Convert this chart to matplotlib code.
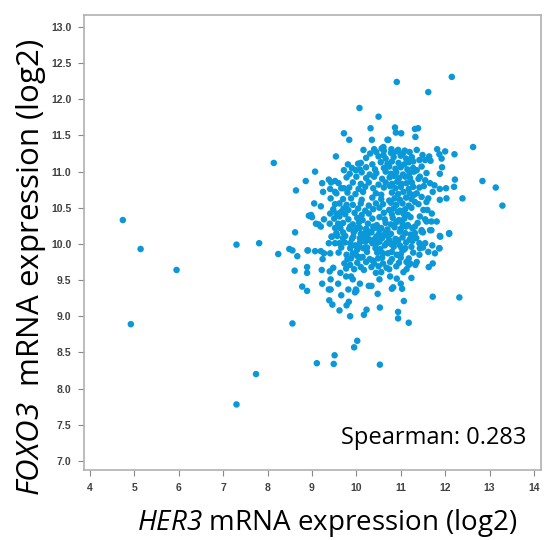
import matplotlib
matplotlib.use("Agg")
import matplotlib.pyplot as plt

# (HER3, FOXO3) log2 expression
outliers = [
    (4.74, 10.33), (5.14, 9.93), (5.95, 9.64), (4.92, 8.89),
    (7.30, 9.99), (7.81, 10.01), (8.24, 9.86), (7.74, 8.20), (7.30, 7.78),
    (8.14, 11.12), (8.56, 8.90),
]

left_edge = [
    (8.49, 9.93), (8.56, 9.91), (8.67, 9.83), (8.62, 10.16), (8.93, 10.39),
    (8.90, 9.91), (8.61, 9.63), (8.89, 9.68), (8.89, 9.60), (8.78, 9.41),
    (8.89, 9.35), (8.86, 10.87), (8.64, 10.74), (9.07, 11.00), (9.05, 10.56),
    (9.20, 10.52), (8.98, 10.40), (9.00, 10.37), (9.09, 10.28), (9.20, 10.24),
    (9.15, 10.27), (9.41, 10.42), (9.27, 10.34), (9.23, 10.84), (9.38, 10.89),
    (9.43, 10.85), (9.52, 10.87), (9.25, 10.72), (9.41, 10.76), (9.52, 10.72),
    (9.66, 10.77), (9.72, 10.77), (9.42, 10.63), (9.44, 10.10), (9.52, 10.22),
    (9.75, 10.11), (9.70, 10.16), (9.59, 10.28), (9.62, 10.56), (9.71, 10.49),
    (9.65, 10.44), (9.78, 10.54), (9.62, 10.38),
]

lower_tail = [
    (10.02, 8.66), (9.95, 8.57), (9.51, 8.46), (9.11, 8.35), (9.49, 8.34),
    (10.53, 8.33), (11.72, 9.27), (12.32, 9.26), (11.18, 8.91), (10.94, 9.06),
    (10.94, 8.97), (11.07, 9.21), (10.53, 9.12), (10.23, 9.09), (10.17, 9.02),
    (9.86, 9.00), (9.62, 9.08), (9.46, 9.16), (9.39, 9.22), (9.78, 9.15),
    (9.83, 9.20), (10.48, 9.31), (9.97, 9.33), (9.99, 9.37), (10.00, 9.35),
    (9.66, 9.29), (9.38, 9.37), (9.42, 9.37), (9.82, 9.37), (10.28, 9.42),
    (10.34, 9.42), (10.80, 9.38), (10.83, 9.40), (11.03, 9.38), (11.00, 9.45),
    (9.23, 9.45), (9.59, 9.45), (10.08, 9.45), (10.52, 9.51), (10.91, 9.52),
    (11.24, 9.53), (9.22, 9.64), (9.42, 9.51), (9.40, 9.62), (9.48, 9.67),
    (9.64, 9.60), (9.77, 9.55), (9.88, 9.55), (9.92, 9.51), (9.77, 9.66),
    (9.86, 9.71), (9.95, 9.65), (10.17, 9.64), (10.34, 9.68), (10.44, 9.60),
    (10.56, 9.61), (10.74, 9.65), (10.76, 9.55), (11.06, 9.61), (11.13, 9.65),
    (11.18, 9.71), (11.33, 9.71), (11.63, 9.68), (11.72, 9.73),
]

mid_band = [
    (8.91, 9.91), (9.07, 9.90), (9.20, 9.90), (9.27, 9.87), (9.41, 9.87),
    (9.24, 9.79), (9.73, 9.73), (9.78, 9.85), (9.80, 9.79), (9.38, 10.01),
    (9.52, 10.01), (9.62, 10.01), (9.45, 10.10), (9.57, 10.11), (9.86, 10.01),
    (9.97, 9.98), (10.08, 10.02), (10.02, 9.92), (9.99, 9.85), (10.16, 9.94),
    (10.14, 9.82), (10.04, 9.82), (10.23, 10.10), (10.27, 10.15), (10.31, 10.05),
    (10.46, 10.01), (10.43, 9.94), (10.47, 9.88), (10.49, 9.80), (10.40, 9.73),
    (10.37, 9.77), (10.64, 9.98), (10.68, 10.01), (10.74, 10.05), (10.71, 9.87),
    (10.85, 10.01), (10.94, 10.05), (10.98, 9.98), (11.02, 9.94), (10.91, 9.85),
    (11.07, 9.92), (11.18, 9.80), (11.13, 9.75), (11.21, 9.73), (11.36, 9.75),
    (11.42, 9.85), (11.43, 9.94), (11.42, 10.01), (11.62, 9.89), (11.71, 9.98),
    (11.77, 9.87), (11.87, 9.94), (11.89, 10.10), (12.09, 10.14), (11.69, 10.19),
    (11.28, 10.10), (11.32, 10.15), (11.47, 10.17), (11.88, 10.11), (11.87, 9.94),
    (9.86, 10.24), (9.97, 10.19), (10.08, 10.22), (10.19, 10.15), (10.31, 10.17),
    (10.40, 10.22), (10.52, 10.19), (10.61, 10.12), (10.70, 10.15), (9.93, 10.10),
    (10.08, 10.08), (10.26, 10.08), (10.45, 10.10),
]

upper = [
    (10.91, 12.24), (12.15, 12.31),
    (10.07, 11.88), (10.50, 11.76), (10.32, 11.60), (9.72, 11.53), (9.84, 11.44),
    (10.35, 11.44), (10.16, 11.30), (10.40, 11.31), (10.31, 11.25), (10.57, 11.32),
    (10.70, 11.44), (10.61, 11.23), (9.54, 11.21), (9.81, 11.10), (9.72, 11.02),
    (10.04, 11.11), (9.99, 11.02), (10.08, 11.03), (11.62, 12.10), (10.87, 11.61),
    (10.89, 11.54), (11.01, 11.53), (11.32, 11.59), (11.39, 11.60), (11.33, 11.48),
    (10.72, 11.44), (10.61, 11.34), (10.79, 11.31), (10.83, 11.26), (10.94, 11.30),
    (11.09, 11.29), (11.36, 11.30), (11.49, 11.23), (11.64, 11.21), (11.67, 11.15),
    (11.55, 11.16), (11.42, 11.16), (11.28, 11.14), (11.82, 11.31), (11.87, 11.24),
    (12.00, 11.28), (11.92, 11.18), (12.21, 11.24), (12.63, 11.34), (11.93, 11.06),
    (11.88, 10.97), (12.22, 10.89), (12.20, 10.79), (12.84, 10.87), (13.14, 10.78),
    (13.29, 10.53), (12.39, 10.63), (11.76, 10.81), (11.72, 10.72), (11.88, 10.76),
    (12.02, 10.77), (12.03, 10.63), (11.88, 10.61), (11.47, 11.07), (11.36, 11.02),
    (11.58, 10.98), (11.43, 10.93), (11.55, 10.88), (11.66, 10.84), (11.21, 10.91),
    (11.13, 10.84), (11.28, 10.79), (11.36, 10.70), (11.47, 10.65), (11.58, 10.58),
    (11.32, 10.58), (11.51, 10.47), (11.43, 10.38), (11.58, 10.31), (11.69, 10.31),
    (11.81, 10.31), (11.32, 10.24), (11.47, 10.19), (11.66, 10.19), (12.09, 10.15),
]

core = [
    (10.45, 11.27), (10.62, 11.29), (10.78, 11.26), (10.92, 11.28), (11.05, 11.25), (11.20, 11.27),
    (10.22, 11.19), (10.50, 11.21), (10.66, 11.18), (10.84, 11.20), (11.00, 11.22), (11.12, 11.18), (11.25, 11.20),
    (10.10, 11.12), (10.36, 11.10), (10.55, 11.13), (10.70, 11.11), (10.80, 11.14), (10.95, 11.12), (11.08, 11.10), (11.18, 11.13),
    (9.90, 11.05), (10.22, 11.06), (10.42, 11.03), (10.62, 11.05), (10.74, 11.07), (10.88, 11.04), (11.00, 11.06), (11.15, 11.03), (11.28, 11.05),
    (9.85, 10.97), (10.12, 10.99), (10.30, 10.96), (10.45, 10.98), (10.66, 11.00), (10.78, 10.97), (10.90, 10.99), (11.05, 10.96), (11.20, 10.98), (11.30, 11.00),
    (9.78, 10.92), (10.00, 10.93), (10.22, 10.91), (10.40, 10.93), (10.58, 10.90), (10.75, 10.92), (10.85, 10.94), (10.96, 10.91), (11.10, 10.93), (11.40, 10.90),
    (9.60, 10.84), (9.92, 10.85), (10.10, 10.83), (10.28, 10.85), (10.50, 10.82), (10.66, 10.85), (10.80, 10.83), (10.92, 10.86), (11.02, 10.83), (11.25, 10.85),
    (9.84, 10.78), (10.05, 10.76), (10.20, 10.79), (10.38, 10.77), (10.62, 10.78), (10.76, 10.80), (10.88, 10.77), (11.00, 10.79), (11.18, 10.76), (11.42, 10.78), (11.52, 10.80),
    (9.55, 10.70), (9.80, 10.71), (9.98, 10.69), (10.15, 10.72), (10.44, 10.70), (10.56, 10.68), (10.80, 10.71), (10.94, 10.69), (11.06, 10.72), (11.20, 10.70), (11.30, 10.68),
    (9.70, 10.62), (9.88, 10.63), (10.12, 10.61), (10.36, 10.64), (10.56, 10.62), (10.74, 10.60), (10.86, 10.63), (10.98, 10.61), (11.12, 10.64), (11.24, 10.62), (11.62, 10.63),
    (9.52, 10.55), (9.92, 10.54), (10.10, 10.56), (10.28, 10.53), (10.44, 10.56), (10.60, 10.55), (10.78, 10.57), (10.90, 10.54), (11.04, 10.56), (11.18, 10.53), (11.40, 10.55),
    (9.48, 10.48), (9.82, 10.47), (10.04, 10.49), (10.20, 10.46), (10.38, 10.48), (10.52, 10.50), (10.74, 10.47), (10.84, 10.49), (10.98, 10.46), (11.10, 10.48), (11.24, 10.50), (11.60, 10.47),
    (9.55, 10.42), (9.75, 10.41), (9.96, 10.43), (10.12, 10.40), (10.28, 10.42), (10.62, 10.43), (10.80, 10.41), (10.94, 10.44), (11.06, 10.42), (11.16, 10.40), (11.70, 10.42),
    (9.50, 10.35), (9.82, 10.34), (10.02, 10.36), (10.14, 10.33), (10.36, 10.35), (10.52, 10.37), (10.64, 10.34), (10.82, 10.36), (10.96, 10.33), (11.08, 10.35), (11.22, 10.37), (11.55, 10.34),
    (9.40, 10.28), (9.70, 10.29), (9.92, 10.27), (10.06, 10.30), (10.26, 10.28), (10.46, 10.26), (10.66, 10.29), (10.78, 10.27), (10.90, 10.30), (11.04, 10.28), (11.16, 10.26), (11.38, 10.29),
    (9.64, 10.22), (9.84, 10.21), (10.04, 10.23), (10.22, 10.21), (10.38, 10.24), (10.56, 10.22), (10.70, 10.20), (10.86, 10.23), (11.00, 10.21), (11.12, 10.24), (11.26, 10.22),
    (9.55, 10.15), (9.94, 10.16), (10.10, 10.14), (10.34, 10.16), (10.50, 10.13), (10.66, 10.16), (10.78, 10.14), (10.98, 10.17), (11.10, 10.15), (11.22, 10.13), (11.50, 10.16),
    (9.70, 10.08), (9.90, 10.07), (10.16, 10.09), (10.40, 10.06), (10.58, 10.08), (10.72, 10.10), (10.88, 10.07), (11.04, 10.09), (11.20, 10.06), (11.35, 10.08),
    (9.74, 10.02), (10.20, 10.03), (10.36, 10.01), (10.52, 10.03), (10.78, 10.00), (11.12, 10.02), (11.26, 10.04), (11.55, 10.01),
    (9.66, 9.95), (9.86, 9.94), (10.06, 9.96), (10.24, 9.95), (10.54, 9.93), (10.84, 9.96), (11.10, 9.94), (11.24, 9.96), (11.50, 9.95),
    (9.60, 9.88), (9.92, 9.87), (10.24, 9.89), (10.60, 9.87), (10.80, 9.89), (11.00, 9.86), (11.28, 9.88),
    (9.88, 9.80), (10.10, 9.81), (10.30, 9.79), (10.58, 9.81), (10.80, 9.79), (11.00, 9.81),
    (10.02, 9.74), (10.22, 9.75), (10.60, 9.73), (10.76, 9.75), (10.96, 9.74),
    (10.10, 9.68), (10.50, 9.69), (10.68, 9.67), (10.90, 9.69),
]

spearman_rho = 0.283

samples = outliers + left_edge + lower_tail + mid_band + upper + core
her3 = [p[0] for p in samples]
foxo3 = [p[1] for p in samples]

# math parts are only the italic gene names, so italic for everything in math
plt.rcParams["mathtext.fontset"] = "custom"
plt.rcParams["mathtext.it"] = "Open Sans:italic"
plt.rcParams["mathtext.rm"] = "Open Sans:italic"

fig = plt.figure(figsize=(5.44, 5.40), dpi=100)
ax = fig.add_axes([0.1544, 0.1296, 0.840, 0.8426])

ax.scatter(her3, foxo3, s=22, color="#0a98d8", edgecolors="none", zorder=3)

ax.set_xlim(3.865, 14.158)
ax.set_ylim(6.873, 13.166)
ax.set_xticks(range(4, 15))
ax.set_yticks([7.0 + 0.5 * i for i in range(13)])
ax.set_yticklabels(["%.1f" % (7.0 + 0.5 * i) for i in range(13)])

for sp in ax.spines.values():
    sp.set_color("#b0b0b0")
    sp.set_linewidth(1.2)
ax.tick_params(length=4, width=0.8, color="#888888", labelsize=7.5,
               labelcolor="#404040", pad=5)
for lab in ax.get_xticklabels() + ax.get_yticklabels():
    lab.set_fontfamily("Liberation Sans")
    lab.set_fontweight("bold")

ax.text(0.969, 0.045, "Spearman: %.3f" % spearman_rho, transform=ax.transAxes,
        ha="right", va="bottom", fontsize=17, family="Open Sans")

fig.text(327 / 544, 1 - 523 / 540, r"$HER3$ mRNA expression (log2)",
         ha="center", va="center", fontsize=20, family="Open Sans")
fig.text(31 / 544, 1 - 267 / 540, r"$FOXO3$  mRNA expression (log2)",
         ha="center", va="center", fontsize=22.5, family="Open Sans", rotation=90)

fig.savefig("out.png", dpi=100)
